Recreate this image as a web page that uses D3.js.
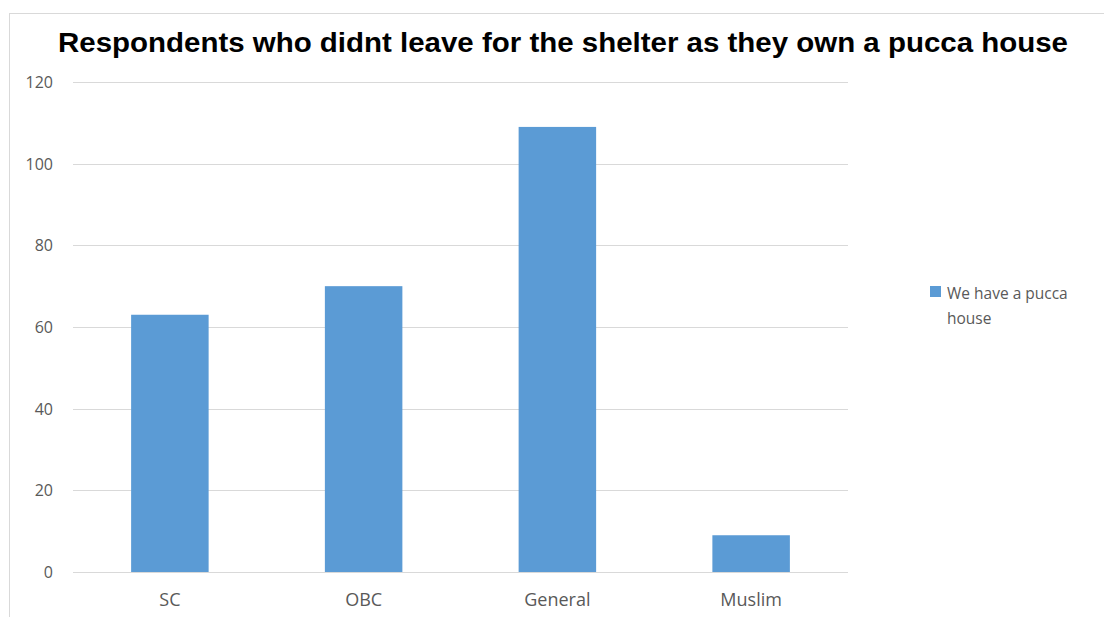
<!DOCTYPE html>
<html>
<head>
<meta charset="utf-8">
<script src="https://cdn.jsdelivr.net/npm/d3@7/dist/d3.min.js"></script>
<style>
  html, body { margin: 0; padding: 0; background: #fff; }
  svg { display: block; }
</style>
</head>
<body>
<svg id="chart" width="1104" height="617"></svg>
<script>
// Data
const categories = ["SC", "OBC", "General", "Muslim"];
const values = [63, 70, 109, 9];
const yTicks = [0, 20, 40, 60, 80, 100, 120];
const seriesName = "We have a pucca house";
const titleText = "Respondents who didnt leave for the shelter as they own a pucca house";

const svg = d3.select("#chart");
const W = 1104, H = 617;
const plot = { left: 73, right: 848, top: 82, bottom: 572 };

// Outer chart frame
svg.append("rect")
  .attr("x", 9.5).attr("y", 13.5)
  .attr("width", W + 10).attr("height", H)
  .attr("fill", "#fff")
  .attr("stroke", "#d9d9d9").attr("stroke-width", 1);

// Title
svg.append("text")
  .attr("x", 563).attr("y", 52)
  .attr("text-anchor", "middle")
  .attr("font-family", "Liberation Sans, Arial, sans-serif")
  .attr("font-weight", "bold")
  .attr("font-size", 28)
  .attr("textLength", 1010)
  .attr("lengthAdjust", "spacingAndGlyphs")
  .attr("fill", "#000")
  .text(titleText);

const x = d3.scaleBand()
  .domain(categories)
  .range([plot.left, plot.right])
  .paddingInner(0.6)
  .paddingOuter(0.3);

const y = d3.scaleLinear()
  .domain([0, 120])
  .range([plot.bottom, plot.top]);

// Gridlines
svg.append("g")
  .selectAll("line")
  .data(yTicks)
  .join("line")
  .attr("x1", plot.left).attr("x2", plot.right)
  .attr("y1", d => Math.round(y(d)) + 0.5)
  .attr("y2", d => Math.round(y(d)) + 0.5)
  .attr("stroke", "#d9d9d9").attr("stroke-width", 1.2);

// Y axis labels
const yAxis = d3.axisLeft(y).tickValues(yTicks).tickSize(0).tickPadding(0);
const gy = svg.append("g")
  .attr("transform", `translate(53,0)`)
  .call(yAxis);
gy.select(".domain").remove();
gy.selectAll("text")
  .attr("font-family", "Open Sans, Liberation Sans, sans-serif")
  .attr("font-size", 16)
  .attr("fill", "#595959")
  .attr("dy", "0.35em");

// Bars
svg.append("g")
  .selectAll("rect")
  .data(categories.map((c, i) => ({ c, v: values[i] })))
  .join("rect")
  .attr("x", d => x(d.c))
  .attr("y", d => y(d.v))
  .attr("width", x.bandwidth())
  .attr("height", d => y(0) - y(d.v))
  .attr("fill", "#5b9bd5");

// Category labels
const xAxis = d3.axisBottom(x).tickSize(0).tickPadding(0);
const gx = svg.append("g")
  .attr("transform", `translate(0,${plot.bottom + 34})`)
  .call(xAxis);
gx.select(".domain").remove();
gx.selectAll("text")
  .attr("font-family", "Open Sans, Liberation Sans, sans-serif")
  .attr("font-size", 18)
  .attr("fill", "#595959")
  .attr("dy", 0);

// Legend
const legend = svg.append("g").attr("transform", "translate(930,286)");
legend.append("rect")
  .attr("x", 0).attr("y", 0)
  .attr("width", 11).attr("height", 11)
  .attr("fill", "#5b9bd5");
const lt = legend.append("text")
  .attr("font-family", "Open Sans, Liberation Sans, sans-serif")
  .attr("font-size", 15.5)
  .attr("fill", "#595959");
lt.append("tspan").attr("x", 17).attr("y", 13).text("We have a pucca");
lt.append("tspan").attr("x", 17).attr("y", 38).text("house");
</script>
</body>
</html>
